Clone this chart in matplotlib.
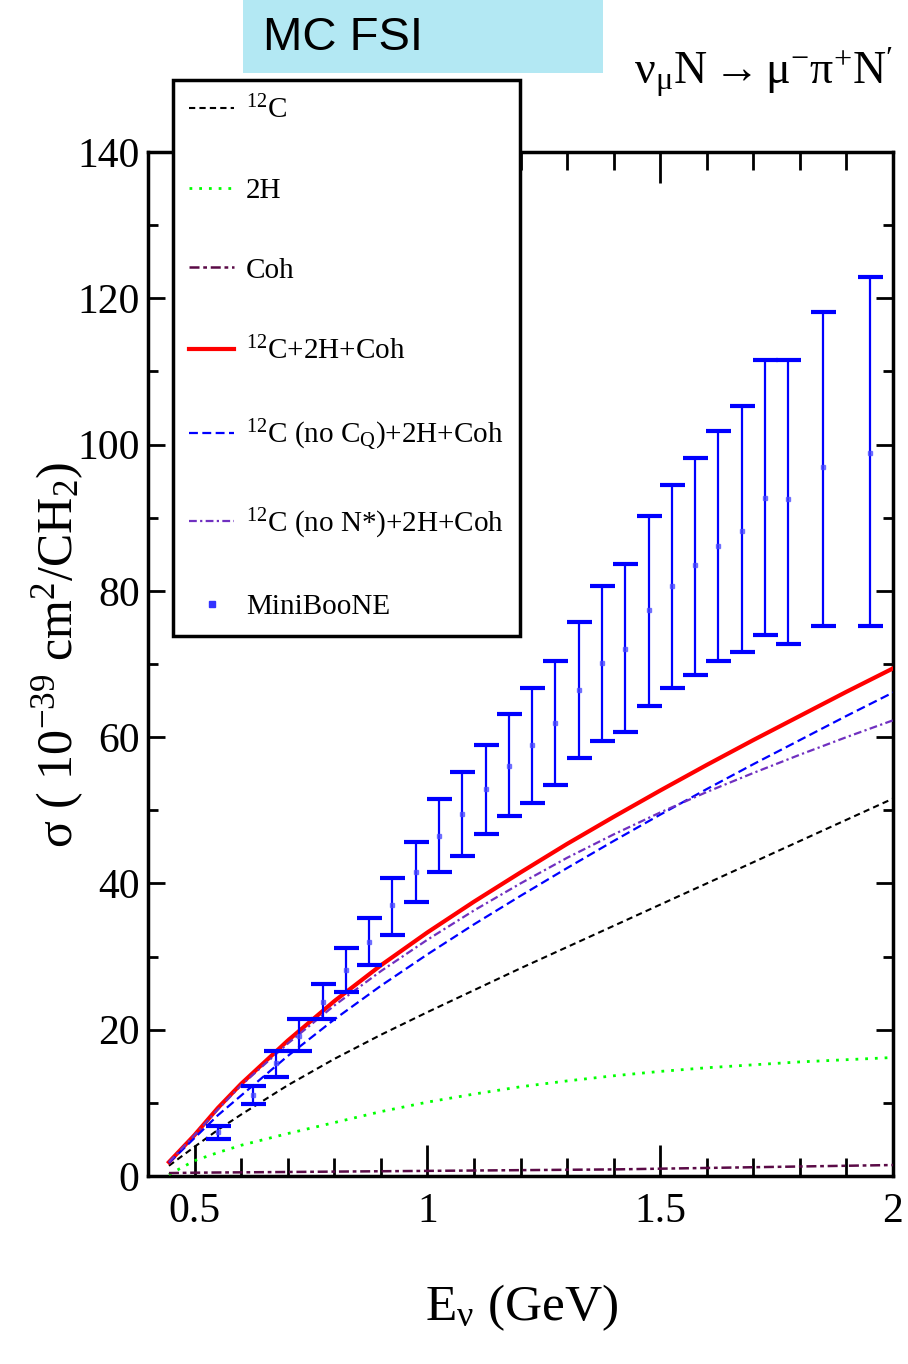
import matplotlib
matplotlib.use('Agg')
import matplotlib.pyplot as plt
from matplotlib.lines import Line2D
from matplotlib.patches import Rectangle
from matplotlib.ticker import MultipleLocator, FixedLocator

plt.rcParams['font.family'] = ['Liberation Serif', 'DejaVu Serif']
plt.rcParams['mathtext.fontset'] = 'custom'
plt.rcParams['mathtext.rm'] = 'Liberation Serif'
plt.rcParams['mathtext.it'] = 'Liberation Serif:italic'
plt.rcParams['mathtext.bf'] = 'Liberation Serif:bold'

# ---------------- data ----------------
E_grid = [0.445, 0.5, 0.55, 0.6, 0.7, 0.8, 0.9, 1.0, 1.1, 1.2, 1.3, 1.4, 1.5, 1.6, 1.7, 1.8, 1.9, 2.0]
sig_C12 = [1.4, 4.0, 6.3, 8.4, 12.4, 16.0, 19.3, 22.4, 25.4, 28.4, 31.3, 34.2, 37.1, 40.0, 42.9, 45.8, 48.7, 51.6]
sig_2H = [0.2, 2.1, 3.2, 4.2, 5.8, 7.3, 8.8, 10.1, 11.2, 12.2, 13.0, 13.7, 14.3, 14.8, 15.2, 15.6, 15.9, 16.2]
sig_coh = [0.4, 0.45, 0.48, 0.5, 0.55, 0.6, 0.65, 0.7, 0.75, 0.8, 0.85, 0.9, 1.0, 1.1, 1.2, 1.3, 1.4, 1.5]
sig_total = [1.9, 5.6, 9.3, 12.6, 18.5, 23.9, 28.8, 33.3, 37.5, 41.5, 45.4, 49.1, 52.7, 56.2, 59.6, 62.9, 66.2, 69.4]
sig_noCQ = [1.8, 5.2, 8.3, 11.0, 16.4, 21.4, 26.0, 30.3, 34.4, 38.3, 42.1, 45.8, 49.4, 52.9, 56.3, 59.6, 62.9, 66.1]
sig_noNstar = [1.9, 5.6, 9.1, 12.4, 18.1, 23.3, 28.0, 32.3, 36.3, 40.0, 43.5, 46.7, 49.7, 52.5, 55.1, 57.6, 60.0, 62.3]

mb_E = [0.55, 0.625, 0.675, 0.725, 0.775, 0.825, 0.875, 0.925, 0.975, 1.025, 1.075, 1.125,
        1.175, 1.225, 1.275, 1.325, 1.375, 1.425, 1.475, 1.525, 1.575, 1.625, 1.675, 1.725,
        1.775, 1.85, 1.95]
mb_sig = [6.0, 11.1, 15.4, 19.2, 23.8, 28.2, 32.0, 37.0, 41.5, 46.5, 49.5, 52.9,
          56.0, 58.9, 61.9, 66.4, 70.1, 72.1, 77.4, 80.7, 83.6, 86.2, 88.2, 92.7,
          92.5, 97.0, 98.9]
mb_hi = [6.9, 12.3, 17.1, 21.4, 26.3, 31.2, 35.3, 40.8, 45.6, 51.6, 55.2, 58.9,
         63.2, 66.7, 70.4, 75.8, 80.7, 83.7, 90.3, 94.5, 98.2, 101.8, 105.3, 111.5,
         111.5, 118.1, 122.9]
mb_lo = [5.1, 9.9, 13.6, 17.1, 21.4, 25.1, 28.8, 33.0, 37.4, 41.5, 43.8, 46.8,
         49.2, 51.0, 53.4, 57.1, 59.5, 60.7, 64.2, 66.7, 68.5, 70.4, 71.6, 74.0,
         72.7, 75.2, 75.2]

x_ticks = [0.5, 1.0, 1.5, 2.0]
x_ticklabels = ['0.5', '1', '1.5', '2']
y_ticks = [0, 20, 40, 60, 80, 100, 120, 140]
y_ticklabels = ['0', '20', '40', '60', '80', '100', '120', '140']

labels = [r'$^{12}$C', '2H', 'Coh', r'$^{12}$C+2H+Coh',
          r'$^{12}$C (no C$_\mathrm{Q}$)+2H+Coh', r'$^{12}$C (no N*)+2H+Coh', 'MiniBooNE']

# ---------------- figure ----------------
W, H = 908, 1364
fig = plt.figure(figsize=(W / 100, H / 100), dpi=100)
ax = fig.add_axes([148 / W, 1 - 1176 / H, (893 - 148) / W, (1176 - 152) / H])

l1, = ax.plot(E_grid, sig_C12, color='black', lw=1.5, dashes=(3, 2), zorder=3)
l2, = ax.plot(E_grid, sig_2H, color='#00ff00', lw=2.0, dashes=(1, 2.5), zorder=3)
l3, = ax.plot(E_grid, sig_coh, color='#5a0a46', lw=1.8, dashes=(4, 1.5, 1.5, 1.5), zorder=3)
l4, = ax.plot(E_grid, sig_total, color='#ff0000', lw=3.0, zorder=3)
l5, = ax.plot(E_grid, sig_noCQ, color='#0000ff', lw=1.6, dashes=(4, 2), zorder=3)
l6, = ax.plot(E_grid, sig_noNstar, color='#7030c0', lw=1.6, dashes=(3.5, 1.5, 1, 1.5), zorder=3)

yerr = [[c - lo for c, lo in zip(mb_sig, mb_lo)], [hi - c for c, hi in zip(mb_sig, mb_hi)]]
ax.errorbar(mb_E, mb_sig, yerr=yerr, fmt='none', ecolor='#0000ff', elinewidth=1.6,
            capsize=9, capthick=3, zorder=4)
ax.plot(mb_E, mb_sig, 's', color='#4a4aff', ms=3.5, alpha=0.7, zorder=5)

ax.set_xlim(0.4, 2.0)
ax.set_ylim(0, 140)
ax.xaxis.set_major_locator(FixedLocator(x_ticks))
ax.set_xticklabels(x_ticklabels)
ax.xaxis.set_minor_locator(MultipleLocator(0.1))
ax.yaxis.set_major_locator(FixedLocator(y_ticks))
ax.set_yticklabels(y_ticklabels)
ax.yaxis.set_minor_locator(MultipleLocator(10))

ax.tick_params(which='both', direction='in', top=True, right=True, width=2, labelsize=30)
ax.tick_params(axis='x', which='major', length=22, pad=12)
ax.tick_params(axis='x', which='minor', length=13)
ax.tick_params(axis='y', which='major', length=12, pad=6)
ax.tick_params(axis='y', which='minor', length=7)
for s in ax.spines.values():
    s.set_linewidth(2.5)

# legend
handles = [l1, l2, l3, l4, l5, l6,
           Line2D([], [], ls='none', marker='s', ms=4, color='#3333ff')]
leg = ax.legend(handles, labels, loc='upper left', bbox_to_anchor=(173 / W, 1 - 80 / H),
                bbox_transform=fig.transFigure, borderaxespad=0, fontsize=21, frameon=True,
                fancybox=False, edgecolor='black', framealpha=1, handlelength=1.55,
                handletextpad=0.4, borderpad=0.55, labelspacing=1.82)
leg.get_frame().set_linewidth(2.5)
leg.set_zorder(10)

# title box
fig.patches.append(Rectangle((243 / W, 1 - 73 / H), 360 / W, 73 / H, transform=fig.transFigure,
                             facecolor='#b3e8f3', edgecolor='none'))
fig.text(263 / W, 1 - 38 / H, 'MC FSI', family='Liberation Sans', fontsize=34,
         ha='left', va='center')

# reaction
fig.text(893 / W, 1 - 72 / H, r'$\mathrm{\nu_{\mu} N \rightarrow \mu^{-}\pi^{+}N^{\prime}}$',
         fontsize=33, ha='right', va='center')

# axis labels
fig.text(58 / W, 1 - 655 / H, r'$\mathrm{\sigma}$ ( 10$^{-39}$ cm$^{2}$/CH$_{2}$)',
         fontsize=36, rotation=90, ha='center', va='center')
fig.text(522 / W, 1 - 1308 / H, r'E$_{\mathrm{\nu}}$ (GeV)', fontsize=37,
         ha='center', va='center')

fig.savefig('out.png', dpi=100)
